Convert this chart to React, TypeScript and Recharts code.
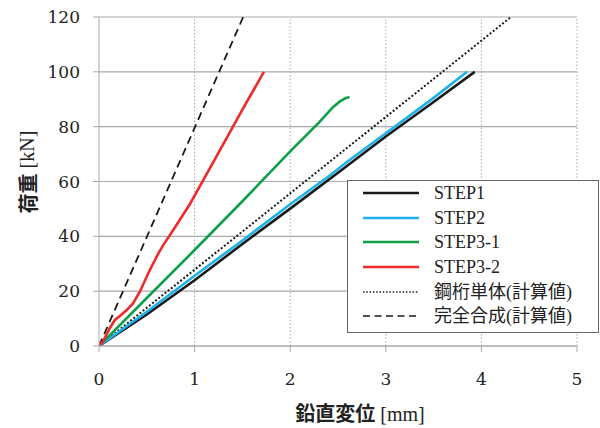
import { CartesianGrid, Label, Legend, Line, LineChart, ReferenceLine, XAxis, YAxis } from "recharts"

// 荷重-鉛直変位 curves
const step1X = [0, 0.5, 1, 1.5, 2, 2.5, 3, 3.5, 3.93]
const step1Y = [0, 11.5, 24, 37.2, 50.1, 63.2, 76.4, 89, 100]

const step2X = [0, 0.5, 1, 1.5, 2, 2.4, 2.6, 3, 3.5, 3.85]
const step2Y = [0, 12.5, 25.6, 38.5, 51.7, 61.8, 67.3, 77.6, 90.5, 100]

const step31X = [0, 0.5, 1, 1.5, 2, 2.3, 2.45, 2.52, 2.58, 2.62]
const step31Y = [0, 17.5, 35, 52.8, 71, 81.5, 87.2, 89.2, 90.4, 90.8]

const step32X = [0, 0.04, 0.11, 0.164, 0.23, 0.287, 0.356, 0.426, 0.53, 0.62, 0.67, 0.775, 0.95, 1.2, 1.5, 1.725]
const step32Y = [0, 1.5, 6.3, 9.4, 11.3, 13, 15.5, 19.7, 27.6, 33.7, 36.7, 42.2, 51.7, 67.3, 86.2, 100]

const steelX = [0, 4.31]
const steelY = [0, 120]

const compositeX = [0, 1.508]
const compositeY = [0, 120]

const xTicks = [0, 1, 2, 3, 4, 5]
const yTicks = [0, 20, 40, 60, 80, 100, 120]

const toPoints = (xs: number[], ys: number[]) => xs.map((x, i) => ({ x, y: ys[i] }))

const FONT = '"Liberation Serif", "Noto Sans CJK JP", serif'
const TICK_FONT = '"DejaVu Serif", serif'
const CJK = '"Noto Sans CJK JP", sans-serif'
const GRID = "#a9a9a9"

const series = [
  { name: "STEP1", data: toPoints(step1X, step1Y), color: "#1a1a1a", width: 2.6, dash: undefined },
  { name: "STEP2", data: toPoints(step2X, step2Y), color: "#1cb1ea", width: 2.6, dash: undefined },
  { name: "STEP3-1", data: toPoints(step31X, step31Y), color: "#0e9f4a", width: 2.6, dash: undefined },
  { name: "STEP3-2", data: toPoints(step32X, step32Y), color: "#ee2a2a", width: 2.6, dash: undefined },
  { name: "鋼桁単体(計算値)", data: toPoints(steelX, steelY), color: "#1a1a1a", width: 2, dash: "2 2" },
  { name: "完全合成(計算値)", data: toPoints(compositeX, compositeY), color: "#1a1a1a", width: 1.8, dash: "8 5" },
]

function LegendBox() {
  return (
    <div
      style={{
        width: 252,
        height: 153,
        boxSizing: "border-box",
        border: "1px solid #666",
        background: "#fff",
        fontFamily: FONT,
        fontSize: 18,
        color: "#222",
      }}
    >
      {series.map((s) => (
        <div key={s.name} style={{ display: "flex", alignItems: "center", height: 24.6 }}>
          <svg width={56} height={6} style={{ marginLeft: 15, marginRight: 15 }}>
            <line
              x1={0}
              y1={3}
              x2={56}
              y2={3}
              stroke={s.color}
              strokeWidth={s.dash ? 1.6 : 2.6}
              strokeDasharray={s.dash === "2 2" ? "1.5 1.8" : s.dash ? "7 4.5" : undefined}
            />
          </svg>
          <span style={{ lineHeight: 1, whiteSpace: "nowrap" }}>{s.name}</span>
        </div>
      ))}
    </div>
  )
}

export default function App() {
  const order = [4, 5, 0, 1, 2, 3]
  return (
    <div style={{ position: "fixed", left: 0, top: 0, background: "#fff" }}>
      <LineChart width={600} height={428} margin={{ top: 17, right: 23, left: 0, bottom: 32 }}>
        <CartesianGrid vertical={false} stroke={GRID} strokeWidth={1.2} />
        {xTicks.slice(1).map((t) => (
          <ReferenceLine key={t} x={t} stroke={GRID} strokeDasharray="1.5 2" />
        ))}
        <XAxis
          type="number"
          dataKey="x"
          domain={[0, 5]}
          ticks={xTicks}
          allowDataOverflow
          height={50}
          stroke={GRID}
          tickSize={6}
          tickMargin={21}
          tick={{ fontFamily: TICK_FONT, fontSize: 17, fill: "#222" }}
        >
          <Label
            content={() => (
              <text x={360} y={421} textAnchor="middle" fontFamily={FONT} fontSize={20} fill="#222">
                <tspan fontFamily={CJK} fontWeight={600}>鉛直変位</tspan>
                <tspan> [mm]</tspan>
              </text>
            )}
          />
        </XAxis>
        <YAxis
          type="number"
          dataKey="y"
          domain={[0, 120]}
          ticks={yTicks}
          allowDataOverflow
          width={99}
          stroke={GRID}
          tickSize={6}
          tickMargin={13}
          tick={{ fontFamily: TICK_FONT, fontSize: 17, fill: "#222" }}
        >
          <Label
            content={() => (
              <text
                x={27}
                y={172}
                transform="rotate(-90 27 172)"
                textAnchor="middle"
                dominantBaseline="central"
                fontFamily={FONT}
                fontSize={20}
                fill="#222"
              >
                <tspan fontFamily={CJK} fontWeight={600}>荷重</tspan>
                <tspan> [kN]</tspan>
              </text>
            )}
          />
        </YAxis>
        {order.map((i) => {
          const s = series[i]
          return (
            <Line
              key={s.name}
              data={s.data}
              dataKey="y"
              name={s.name}
              type="linear"
              stroke={s.color}
              strokeWidth={s.width}
              strokeDasharray={s.dash}
              dot={false}
              activeDot={false}
              isAnimationActive={false}
            />
          )
        })}
        <Legend
          layout="vertical"
          align="center"
          verticalAlign="middle"
          content={() => <LegendBox />}
          wrapperStyle={{ left: 347, top: 180, width: 252, height: 153 }}
        />
      </LineChart>
    </div>
  )
}
